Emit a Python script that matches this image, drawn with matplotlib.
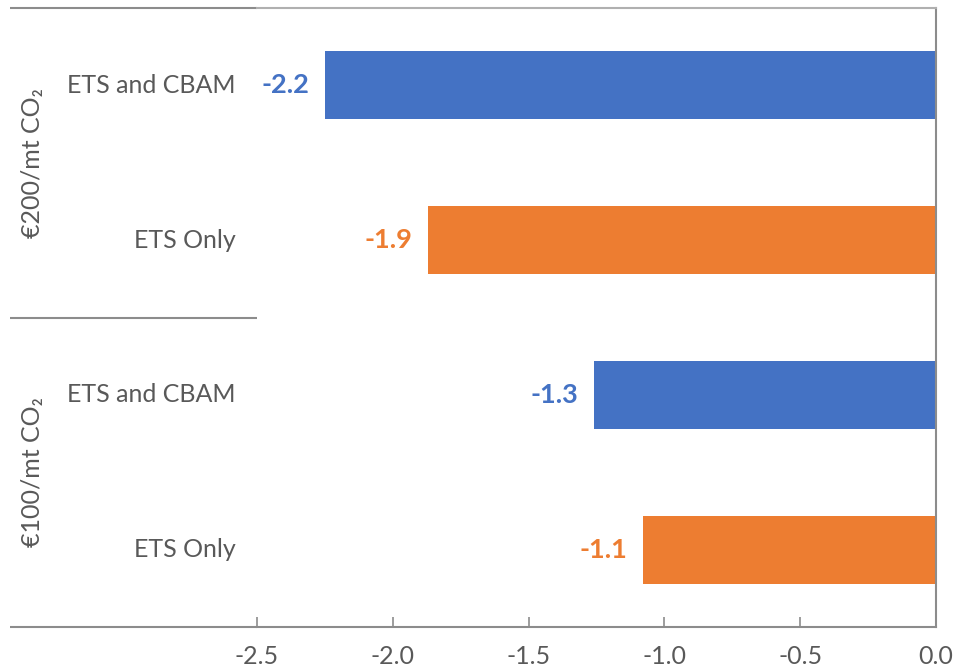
import matplotlib
matplotlib.use("Agg")
import matplotlib.pyplot as plt

plt.rcParams['font.family'] = ['Lato', 'DejaVu Sans']
plt.rcParams['axes.unicode_minus'] = False

groups = ["€200/mt CO₂", "€100/mt CO₂"]
categories = ["ETS and CBAM", "ETS Only", "ETS and CBAM", "ETS Only"]
values = [-2.25, -1.87, -1.26, -1.08]
colors = ["#4472C4", "#ED7D31", "#4472C4", "#ED7D31"]
xticks = [-2.5, -2.0, -1.5, -1.0, -0.5, 0.0]

TXT = "#595959"
AX = "#8C8C8C"
FS = 18

fig = plt.figure(figsize=(9.56, 6.71), dpi=100)
ax = fig.add_axes([257/956, 1-627/671, (936-257)/956, (627-8)/671])

ypos = list(range(len(categories)))
ax.barh(ypos, values, height=0.44, color=colors)
ax.set_xlim(-2.5, 0)
ax.set_ylim(len(categories)-0.5, -0.5)

ax.set_xticks(xticks)
ax.set_xticklabels([f"{t:.1f}" for t in xticks], fontsize=FS, color=TXT)
ax.tick_params(axis='x', direction='in', length=7, width=1.2, color=AX, pad=13)
ax.set_yticks([])

ax.spines['left'].set_visible(False)
ax.spines['right'].set_color(AX)
ax.spines['right'].set_linewidth(1.5)
ax.spines['bottom'].set_color(AX)
ax.spines['bottom'].set_linewidth(1.5)
ax.spines['top'].set_color("#B0B0B0")
ax.spines['top'].set_linewidth(1.5)

# value labels
for y, v, c in zip(ypos, values, colors):
    ax.annotate(f"{v:.1f}", xy=(v, y), xytext=(-11, 0), textcoords='offset points',
                ha='right', va='center', fontsize=19.5, fontweight='bold', color=c)

# category labels
ytr = ax.get_yaxis_transform()
for y, lab in zip(ypos, categories):
    ax.text(-0.032, y, lab, transform=ytr, ha='right', va='center', fontsize=FS, color=TXT)

# group separators and group labels
left_x = (10-257)/679
for b in [-0.5, 1.5, 3.5]:
    ax.plot([left_x, 0], [b, b], transform=ytr, color=AX, lw=1.5, clip_on=False,
            solid_capstyle='butt')
for gi, g in enumerate(groups):
    yc = gi*2 + 0.5
    ax.text((33-257)/679, yc, g, transform=ytr, rotation=90, ha='center', va='center',
            fontsize=FS, color=TXT)

fig.savefig("out.png", dpi=100)
